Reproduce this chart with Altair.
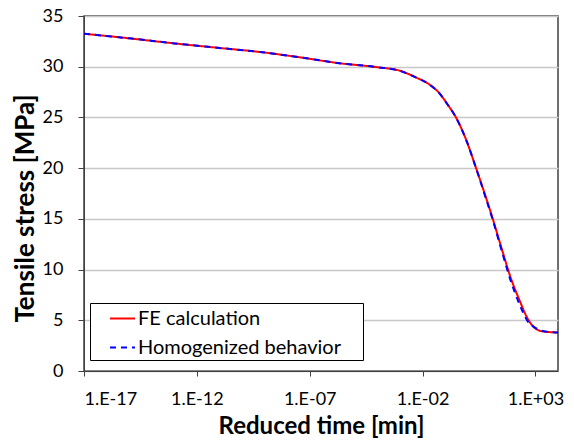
import altair as alt
import pandas as pd

# log10 of reduced time [min]
log_time = [-17, -15, -13, -11, -9.2, -7.5, -5.7, -4, -3, -2.3, -1.7, -1.26, -0.9,
            -0.52, -0.07, 0.37, 0.75, 1.11, 1.5, 1.92, 2.29, 2.66, 2.96, 3.33, 4.0]
fe_stress = [33.25, 32.8, 32.3, 31.85, 31.45, 30.95, 30.35, 29.95, 29.6, 28.95, 28.25,
             27.4, 26.3, 25.0, 22.8, 20.0, 17.5, 15.0, 12.1, 9.1, 7.0, 5.15, 4.26, 3.9, 3.8]
hom_stress = [33.25, 32.8, 32.3, 31.85, 31.45, 30.95, 30.35, 29.95, 29.6, 28.95, 28.25,
              27.4, 26.3, 25.0, 22.8, 20.0, 17.4, 14.9, 11.9, 8.8, 6.6, 4.9, 4.3, 3.95, 3.8]
series_names = ["FE calculation", "Homogenized behavior"]
x_ticks = [1e-17, 1e-12, 1e-7, 1e-2, 1e3]
y_ticks = [0, 5, 10, 15, 20, 25, 30, 35]

rows = []
for name, vals in zip(series_names, [fe_stress, hom_stress]):
    for e, v in zip(log_time, vals):
        rows.append({"time": 10 ** e, "stress": v, "series": name})
df = pd.DataFrame(rows)

FONT = "Lato"
lbl = ('"1.E" + (round(log(datum.value)/LN10) < 0 ? "-" : "+") + '
       '(abs(round(log(datum.value)/LN10)) < 10 ? "0" : "") + abs(round(log(datum.value)/LN10))')

chart = alt.Chart(df).mark_line(strokeWidth=2, interpolate="monotone", clip=True).encode(
    x=alt.X("time:Q", scale=alt.Scale(type="log", domain=[1e-17, 1e4], nice=False),
            axis=alt.Axis(values=x_ticks, labelExpr=lbl, title="Reduced time [min]",
                          grid=False, tickSize=5, labelPadding=14, titlePadding=6)),
    y=alt.Y("stress:Q", scale=alt.Scale(domain=[0, 35], nice=False),
            axis=alt.Axis(values=y_ticks, title="Tensile stress [MPa]", grid=True,
                          tickSize=6, labelPadding=15, titleFontSize=26,
                          titleX=-59, titleY=192, titleBaseline="middle", titleAlign="center",
                          titleAngle=270)),
    color=alt.Color("series:N", scale=alt.Scale(domain=series_names, range=["#ff0000", "#0000ff"]),
                    legend=alt.Legend(title=None, orient="none", legendX=6, legendY=287,
                                      strokeColor="black", fillColor="white", padding=2,
                                      symbolType="stroke", symbolSize=625, symbolStrokeWidth=2,
                                      symbolOffset=17, labelLimit=400,
                                      labelExpr="datum.label + '\u00a0\u00a0\u00a0\u00a0\u200b'",
                                      labelFont=FONT, labelFontSize=20, labelColor="black",
                                      rowPadding=5, labelOffset=2)),
    strokeDash=alt.StrokeDash("series:N", scale=alt.Scale(domain=series_names, range=[[1, 0], [6, 5]]),
                              legend=None),
    order=alt.Order("series:N"),
).properties(
    width=474, height=355,
    autosize=alt.AutoSizeParams(type="none"),
    padding={"left": 84, "top": 16, "right": 16, "bottom": 77},
).configure_view(
    stroke="#404040", strokeWidth=1.5
).configure_axis(
    labelFont=FONT, labelFontSize=18, labelColor="black",
    titleFont=FONT, titleFontSize=24, titleFontWeight="bold", titleColor="black",
    domainColor="#404040", tickColor="#404040", gridColor="#c8c8c8", gridWidth=1.3,
)

chart.save("out.html", embed_options={"renderer": "svg", "actions": False})
